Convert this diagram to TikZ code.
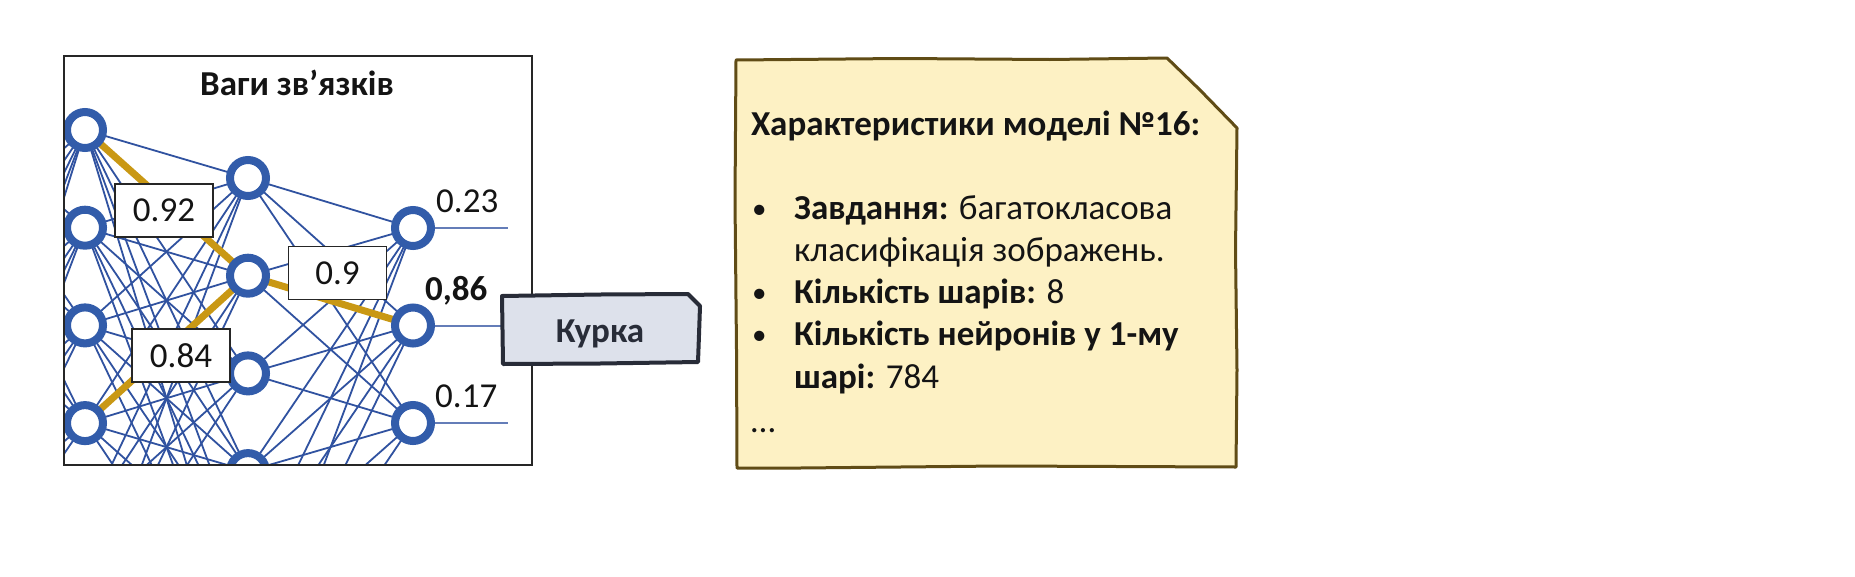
\documentclass[tikz,border=0pt]{standalone}
\usepackage{fontspec}
\setmainfont{Carlito}
\definecolor{netblue}{RGB}{50,92,170}
\definecolor{lineblue}{RGB}{48,82,160}
\definecolor{goldc}{RGB}{201,152,20}
\definecolor{notefill}{RGB}{253,241,196}
\definecolor{noteline}{RGB}{96,76,22}
\definecolor{kfill}{RGB}{221,225,235}
\definecolor{kline}{RGB}{40,44,56}
\definecolor{txt}{RGB}{20,20,20}
\begin{document}
\begin{tikzpicture}[x=1pt,y=-1pt,
  conn/.style={draw=lineblue, line width=1.8pt},
  outline/.style={draw=lineblue!75, line width=2pt},
  goldline/.style={draw=goldc, line width=7pt},
  neuron/.style={circle, draw=netblue, line width=8pt, fill=white, minimum size=36pt, inner sep=0pt},
  wbox/.style={draw=black!85, line width=1.3pt, fill=white, minimum width=98pt, minimum height=53pt, inner sep=0pt, font=\fontsize{35}{35}\selectfont, text=txt},
  numlab/.style={anchor=base west, inner sep=0pt, font=\fontsize{35}{35}\selectfont, text=txt},
  ntext/.style={anchor=base west, inner sep=0pt, font=\fontsize{35}{42}\selectfont, text=txt},
  bul/.style={anchor=base west, inner sep=0pt, font=\fontsize{29}{42}\selectfont, text=txt},
  ttl/.style={anchor=base, inner sep=0pt, font=\fontsize{35}{42}\selectfont\bfseries, text=txt}
]
\useasboundingbox (0,0) rectangle (1855,576);
\fill[white] (0,0) rectangle (1855,576);
% ---------- network ----------
\begin{scope}
\clip (64,56) rectangle (532,465);
\foreach \k in {0,...,6} \coordinate (p0-\k) at (-82,{80+98*\k});
\foreach \k in {0,...,5} \coordinate (p1-\k) at (85,{130+97.7*\k});
\foreach \k in {0,...,5} \coordinate (p2-\k) at (248,{178+97.7*\k});
\foreach \k in {0,1,2} \coordinate (p3-\k) at (413,{228+97.5*\k});
\foreach \k in {0,1,2} \coordinate (o-\k) at (508,{228+97.5*\k});
\foreach \i in {0,...,6} \foreach \j in {0,...,5} \draw[conn] (p0-\i) -- (p1-\j);
\foreach \i in {0,...,5} \foreach \j in {0,...,5} \draw[conn] (p1-\i) -- (p2-\j);
\foreach \i in {0,...,5} \foreach \j in {0,1,2} \draw[conn] (p2-\i) -- (p3-\j);
\foreach \k in {0,1,2} \draw[outline] (p3-\k) -- (o-\k);
\draw[goldline] (p1-0) -- (p2-1);
\draw[goldline] (p1-3) -- (p2-1);
\draw[goldline] (p2-1) -- (p3-1);
\foreach \k in {0,...,5} \node[neuron] (n1-\k) at (p1-\k) {};
\foreach \k in {0,...,5} \node[neuron] (n2-\k) at (p2-\k) {};
\foreach \k in {0,1,2} \node[neuron] (n3-\k) at (p3-\k) {};
\end{scope}
\node[wbox] (w1) at (164,210.5) {0.92};
\node[wbox] (w2) at (337.5,273) {0.9};
\node[wbox] (w3) at (181,355.5) {0.84};
\node[numlab] (out1) at (436,212) {0.23};
\node[numlab, font=\fontsize{35}{35}\selectfont\bfseries] (out2) at (425,300) {0,86};
\node[numlab] (out3) at (435,407) {0.17};
\node[ttl] (nettitle) at (297,95) {Ваги зв’язків};
\draw[black!85, line width=1.3pt] (64,56) rectangle (532,465);
% ---------- Kurka ----------
\draw[draw=kline, fill=kfill, line width=4pt, line join=round]
  (502,296) -- (600,294.5) -- (688,294) -- (700,306) -- (699,335) -- (698,362) -- (600,363.5) -- (503,364) -- (502.5,330) -- cycle;
\node[anchor=base, inner sep=0pt, font=\fontsize{35}{42}\selectfont\bfseries, text=kline] (kurka) at (600,342) {Курка};
% ---------- note ----------
\draw[draw=noteline, fill=notefill, line width=3pt, line join=round]
  (736,60) -- (900,58.5) -- (1050,59.5) -- (1167,58) -- (1200,90) -- (1237,128)
  -- (1235.5,250) -- (1237,370) -- (1236,467) -- (1000,466) -- (800,468) -- (737,468)
  -- (736.5,350) -- (735,200) -- cycle;
\node[ntext, font=\fontsize{35}{42}\selectfont\bfseries] (t0) at (751,135) {Характеристики моделі №16:};
\node[bul] (b1) at (752,218) {•};
\node[ntext] (t1) at (794,219) {\textbf{Завдання:} багатокласова};
\node[ntext] (t2) at (794,261) {класифікація зображень.};
\node[bul] (b2) at (752,302) {•};
\node[ntext] (t3) at (794,303) {\textbf{Кількість шарів:} 8};
\node[bul] (b3) at (752,344) {•};
\node[ntext] (t4) at (794,345) {\textbf{Кількість нейронів у 1-му}};
\node[ntext] (t5) at (794,388) {\textbf{шарі:} 784};
\node[ntext] (t6) at (751,432) {…};
\end{tikzpicture}
\end{document}
